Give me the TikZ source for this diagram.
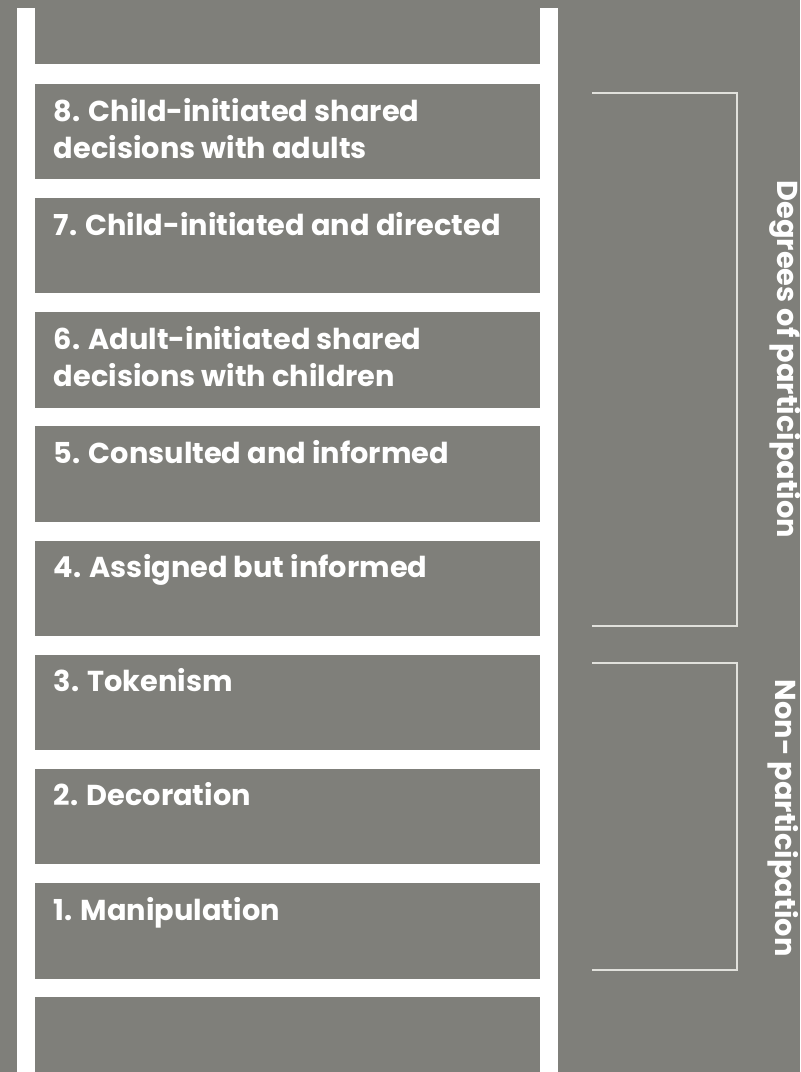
\documentclass[tikz,border=0pt]{standalone}
\usepackage{fontspec}
\setmainfont{Poppins}
\usepackage{tikz}
\usetikzlibrary{positioning}

\definecolor{laddergray}{RGB}{127,127,122}
\definecolor{bracketgray}{RGB}{225,225,220}

\tikzset{
    stepbox/.style={fill=laddergray, draw=none, anchor=north west, inner sep=0pt,
        minimum width=252.5pt, minimum height=47.75pt},
    steplabel/.style={anchor=base west, inner sep=0pt, text=white, align=left,
        font=\fontsize{14.4pt}{18.65pt}\selectfont\bfseries},
    sidelabel/.style={anchor=base, inner sep=0pt, text=white, rotate=-90,
        font=\fontsize{14.4pt}{15pt}\selectfont\bfseries},
    bracket/.style={draw=bracketgray, line width=1pt}
}

\begin{document}
\begin{tikzpicture}[x=0.5pt, y=-0.5pt]
    % Background
    \fill[laddergray] (0,0) rectangle (800,1072);
    \useasboundingbox (0,0) rectangle (800,1072);

    % Ladder (rails and rungs show through between the steps)
    \fill[white] (16.7,7.5) rectangle (558,1072);

    % Steps
    \node[stepbox, minimum height=28.25pt] (s9) at (35,7.5) {};
    \node[stepbox] (s8) at (35,83.3) {};
    \node[stepbox] (s7) at (35,197.5) {};
    \node[stepbox] (s6) at (35,311.7) {};
    \node[stepbox] (s5) at (35,425.9) {};
    \node[stepbox] (s4) at (35,540.1) {};
    \node[stepbox] (s3) at (35,654.3) {};
    \node[stepbox] (s2) at (35,768.5) {};
    \node[stepbox] (s1) at (35,882.7) {};
    \node[stepbox, minimum height=37.65pt] (s0) at (35,996.7) {};

    % Step labels (base = last line)
    \node[steplabel] (t8) at (53.5,158.5) {8. Child-initiated shared\\decisions with adults};
    \node[steplabel] (t7) at (53.5,235) {7. Child-initiated and directed};
    \node[steplabel] (t6) at (53.5,386.5) {6. Adult-initiated shared\\decisions with children};
    \node[steplabel] (t5) at (53.5,463.3) {5. Consulted and informed};
    \node[steplabel] (t4) at (53.5,577.5) {4. Assigned but informed};
    \node[steplabel] (t3) at (53.5,691.7) {3. Tokenism};
    \node[steplabel] (t2) at (53.5,805.9) {2. Decoration};
    \node[steplabel] (t1) at (53.5,920.1) {1. Manipulation};

    % Brackets
    \draw[bracket] (592,93.3) -- (737,93.3) -- (737,625.6) -- (592,625.6);
    \draw[bracket] (592,663) -- (737,663) -- (737,969.5) -- (592,969.5);

    % Side labels
    \node[sidelabel] (degrees) at (777,359.4) {Degrees of participation};
    \node[sidelabel] (nonpart) at (775,818) {Non- participation};
\end{tikzpicture}
\end{document}
